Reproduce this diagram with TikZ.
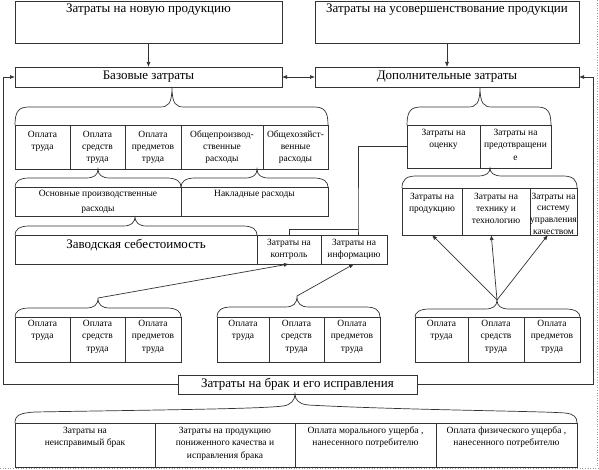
\documentclass[tikz,border=0pt]{standalone}
\usepackage{fontspec}
\setmainfont{Liberation Serif}
\usetikzlibrary{arrows.meta,calc}
\newcommand{\bigf}{\fontsize{13}{15}\selectfont}
\newcommand{\smf}{\fontsize{9.5}{12.3}\selectfont}
\newcommand{\cellT}[4]{\parbox[c][#2pt][t]{#1pt}{\centering\vspace*{#3pt}\strut #4\par}}
\newcommand{\cellM}[3]{\parbox[c][#2pt][c]{#1pt}{\centering\strut #3\par}}
\newcommand{\brac}[7]{%
  \coordinate (#1) at (#4,#5);
  \draw[ln] (#2,#7) .. controls (#2,#6+4) and (#2+4,#6) .. (#2+14,#6) -- (#4-12,#6)
    .. controls (#4-4,#6) and (#4,#6-3) .. (#1)
    .. controls (#4,#6-3) and (#4+4,#6) .. (#4+12,#6) -- (#3-14,#6)
    .. controls (#3-4,#6) and (#3,#6+4) .. (#3,#7);}
\tikzset{
  ln/.style={draw=black!80, line width=0.7pt},
  arr/.style={ln, -{Latex[length=5pt,width=4pt]}},
  cell/.style={draw=black!80, line width=0.7pt, inner sep=0pt, outer sep=0pt, anchor=north west, font=\smf},
  bigcell/.style={cell, font=\bigf}
}
\begin{document}
\begin{tikzpicture}[x=1pt,y=-1pt]
\fill[white] (0,0) rectangle (599,470);
\useasboundingbox (0,0) rectangle (599,470);
% frame remnants
\draw[black!40, dotted, line width=0.6pt] (597,0) -- (597,468) (0,468) -- (599,468);
% top
\node[bigcell] (T1) at (15,1) {\cellT{267}{42}{1}{Затраты на новую продукцию}};
\node[bigcell] (T2) at (315,1) {\cellT{264}{42}{1}{Затраты на усовершенствование продукции}};
\node[bigcell] (B1) at (15,67) {\cellM{267}{20}{Базовые затраты}};
\node[bigcell] (B2) at (315,67) {\cellM{264}{20}{Дополнительные затраты}};
% row 1
\node[cell] (R1a) at (15,125) {\cellT{55}{44}{3.5}{Оплата\\труда}};
\node[cell] (R1b) at (70,125) {\cellT{55}{44}{3.5}{Оплата\\средств\\труда}};
\node[cell] (R1c) at (125,125) {\cellT{56}{44}{3.5}{Оплата\\предметов\\труда}};
\node[cell] (R1d) at (181,125) {\cellT{82}{44}{3.5}{Общепроизвод-\\ственные\\расходы}};
\node[cell] (R1e) at (263,125) {\cellT{65}{44}{3.5}{Общехозяйст-\\венные\\расходы}};
% row 2
\node[cell] (R2a) at (15,187) {\cellT{166}{29}{0.5}{\baselineskip=15pt Основные производственные\\расходы}};
\node[cell] (R2b) at (181,187) {\cellT{147}{29}{0.5}{Накладные расходы}};
% row 3
\node[bigcell] (R3a) at (15,235) {\cellT{242}{29}{3}{Заводская себестоимость}};
\node[cell] (R3b) at (257,235) {\cellT{64}{29}{1.8}{Затраты на\\контроль}};
\node[cell] (R3c) at (321,235) {\cellT{66}{29}{1.8}{Затраты на\\информацию}};
% right
\node[cell] (D1a) at (407,125) {\cellT{73}{43}{1.8}{Затраты на\\оценку}};
\node[cell] (D1b) at (480,125) {\cellT{71}{43}{1.8}{Затраты на\\предотвращени\\е}};
\node[cell] (D2a) at (402,188) {\cellT{60}{47}{2.5}{Затраты на\\продукцию}};
\node[cell] (D2b) at (462,188) {\cellT{68}{47}{2.5}{Затраты на\\технику и\\технологию}};
\node[cell] (D2c) at (530,188) {\cellT{47}{47}{2.5}{\baselineskip=11.7pt Затраты на\\систему\\управления\\качеством}};
% bottom rows
\node[cell] (L1) at (15,317) {\cellT{55}{45}{1}{Оплата\\труда}};
\node[cell] (L2) at (70,317) {\cellT{55}{45}{1}{Оплата\\средств\\труда}};
\node[cell] (L3) at (125,317) {\cellT{56}{45}{1}{Оплата\\предметов\\труда}};
\node[cell] (M1) at (217,317) {\cellT{52}{45}{1}{Оплата\\труда}};
\node[cell] (M2) at (269,317) {\cellT{55}{45}{1}{Оплата\\средств\\труда}};
\node[cell] (M3) at (324,317) {\cellT{56}{45}{1}{Оплата\\предметов\\труда}};
\node[cell] (Q1) at (415,317) {\cellT{53}{45}{1}{Оплата\\труда}};
\node[cell] (Q2) at (468,317) {\cellT{56}{45}{1}{Оплата\\средств\\труда}};
\node[cell] (Q3) at (524,317) {\cellT{56}{45}{1}{Оплата\\предметов\\труда}};
% defects
\node[bigcell] (Brak) at (178,375) {\cellM{239}{19}{Затраты на брак и его исправления}};
\node[cell] (F1) at (15,423) {\cellT{140}{44}{1.8}{Затраты на\\неисправимый брак}};
\node[cell] (F2) at (155,423) {\cellT{140}{44}{1.8}{Затраты на продукцию\\пониженного качества и\\исправления брака}};
\node[cell] (F3) at (295,423) {\cellT{141}{44}{1.8}{Оплата морального ущерба ,\\нанесенного потребителю}};
\node[cell] (F4) at (436,423) {\cellT{141}{44}{1.8}{Оплата физического ущерба ,\\нанесенного потребителю}};
% braces
\brac{b1}{15}{328}{172}{87}{107}{125}
\brac{b2}{407}{551}{480}{87}{107}{125}
\brac{b3}{15}{181}{98}{169}{178}{187}
\brac{b4}{181}{328}{257}{169}{178}{187}
\brac{b5}{15}{257}{135}{216}{226}{235}
\brac{b6}{402}{577}{490}{168}{176}{188}
\brac{b7}{15}{181}{98}{298}{308}{317}
\brac{b8}{217}{380}{297}{296}{307}{317}
\brac{b9}{415}{580}{497}{300}{309}{317}
\coordinate (b10) at (295,394);
\draw[ln] (15,423) .. controls (15,415) and (20,413) .. (35,412)
  .. controls (150,410) and (260,409) .. (283,406)
  .. controls (291,405) and (295,400) .. (b10)
  .. controls (295,400) and (299,404) .. (308,405)
  .. controls (400,410) and (540,411) .. (565,413)
  .. controls (574,414) and (577,417) .. (577,423);
% arrows
\draw[arr] (T1.south) -- (B1.north);
\draw[arr] (T2.south) -- (B2.north);
\draw[ln, {Latex[length=5pt,width=4pt]}-{Latex[length=5pt,width=4pt]}] (B1.east) -- (B2.west);
\coordinate (lx) at (3,0);
\coordinate (rx) at (593,0);
\draw[arr] (Brak.west) -- (Brak.west -| lx) |- (B1.west);
\draw[arr] (Brak.east) -- (Brak.east -| rx) |- (B2.east);
\coordinate (jb) at (358,229);
\draw[ln] (D1a.west) -| (jb) -- (jb |- R3c.north);
\draw[ln] (jb) -| (R3b.north);
\draw[arr] (b7) -- (R3b.south);
\draw[arr] (b8) -- (R3c.south);
\draw[arr] (b9) -- (D2a.south);
\draw[arr] (b9) -- ($(D2b.south west)!0.43!(D2b.south east)$);
\draw[arr] (b9) -- ($(D2c.south west)!0.38!(D2c.south east)$);
\end{tikzpicture}
\end{document}
